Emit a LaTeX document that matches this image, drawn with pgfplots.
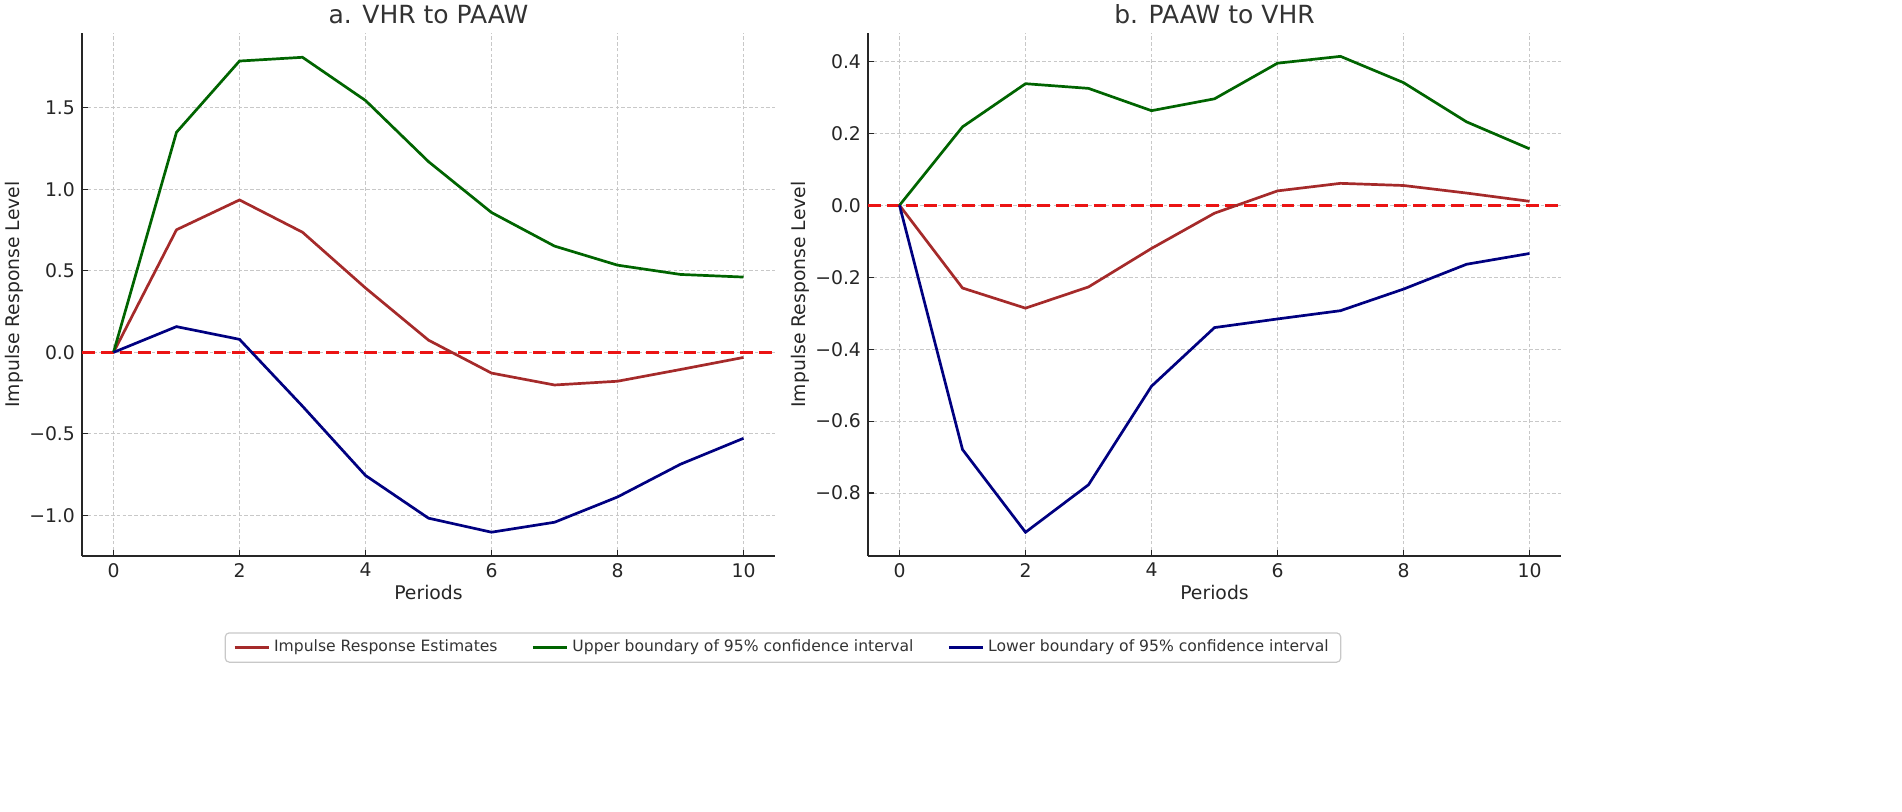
\documentclass[border=0pt]{standalone}
\usepackage{pgfplots}
\pgfplotsset{compat=1.18}
\usepackage{fontspec}
\setmainfont{DejaVu Sans}
\definecolor{irf}{RGB}{165,42,42}
\definecolor{upc}{RGB}{0,100,0}
\definecolor{loc}{RGB}{0,0,128}
\definecolor{zl}{RGB}{235,20,20}
\definecolor{gridc}{RGB}{200,200,200}
\definecolor{txt}{RGB}{38,38,38}
\definecolor{ttl}{RGB}{51,51,51}
\pgfplotsset{
  myax/.style={
    scale only axis, width=346.5pt, height=261.5pt,
    axis x line*=bottom, axis y line*=left,
    axis line style={-, line width=0.75pt, txt},
    xmin=-0.5, xmax=10.5,
    xtick={0,2,4,6,8,10},
    tick align=inside, major tick length=3.2pt,
    tick style={txt, line width=0.6pt},
    grid=major,
    major grid style={gridc, dash pattern=on 1.8pt off 1.1pt, line width=0.45pt},
    /pgf/number format/assume math mode=true,
    tick label style={font=\fontsize{9.4}{11}\selectfont, text=txt},
    label style={font=\fontsize{9.4}{11}\selectfont, text=txt},
    title style={font=\fontsize{12.5}{14}\selectfont, text=ttl, at={(0.5,1)}, anchor=base, yshift=-1.5pt},
    ylabel={Impulse Response Level},
    xlabel={Periods},
    ylabel style={at={(axis description cs:-0.098,0.5)}, anchor=center},
    xlabel style={at={(axis description cs:0.5,-0.0841)}, anchor=base},
    every axis plot/.append style={line width=1.35pt},
  }
}
\pgfplotstableread{
x red green blue
0 0 0 0
1 0.752 1.350 0.158
2 0.935 1.787 0.080
3 0.737 1.810 -0.330
4 0.395 1.545 -0.755
5 0.075 1.170 -1.017
6 -0.127 0.858 -1.103
7 -0.200 0.652 -1.042
8 -0.177 0.535 -0.887
9 -0.105 0.478 -0.686
10 -0.031 0.462 -0.527
}\tabA
\pgfplotstableread{
x red green blue
0 0 0 0
1 -0.230 0.218 -0.679
2 -0.286 0.338 -0.909
3 -0.227 0.325 -0.777
4 -0.120 0.263 -0.503
5 -0.022 0.296 -0.340
6 0.040 0.395 -0.316
7 0.061 0.414 -0.293
8 0.055 0.341 -0.233
9 0.034 0.232 -0.164
10 0.011 0.157 -0.134
}\tabB
\begin{document}
\begin{tikzpicture}
\path[use as bounding box] (0,0) rectangle (951pt,405.5pt);
\begin{axis}[myax, at={(41pt,127.5pt)}, anchor=south west,
  ymin=-1.249, ymax=1.959,
  ytick={-1,-0.5,0,0.5,1,1.5},
  yticklabels={−1.0,−0.5,0.0,0.5,1.0,1.5},
  title={a. VHR to PAAW},
  legend columns=3,
  legend style={at={(1.0115,-0.175)}, anchor=center,
    font=\fontsize{7.8}{9}\selectfont, text=ttl,
    draw=gridc, rounded corners=2pt, line width=0.6pt,
    inner xsep=4pt, inner ysep=1.6pt,
    /tikz/every even column/.append style={column sep=15pt}},
  legend cell align=left,
]
\addplot[zl, dash pattern=on 6.4pt off 3pt, line width=1.3pt, forget plot] coordinates {(-0.5,0) (10.5,0)};
\addplot[irf] table[x=x,y=red] {\tabA};
\addlegendentry{Impulse Response Estimates}
\addplot[upc] table[x=x,y=green] {\tabA};
\addlegendentry{Upper boundary of 95\% confidence interval}
\addplot[loc] table[x=x,y=blue] {\tabA};
\addlegendentry{Lower boundary of 95\% confidence interval}
\end{axis}
\begin{axis}[myax, at={(434pt,127.5pt)}, anchor=south west,
  ymin=-0.975, ymax=0.479,
  ytick={-0.8,-0.6,-0.4,-0.2,0,0.2,0.4},
  yticklabels={−0.8,−0.6,−0.4,−0.2,0.0,0.2,0.4},
  title={b. PAAW to VHR},
]
\addplot[zl, dash pattern=on 6.4pt off 3pt, line width=1.3pt] coordinates {(-0.5,0) (10.5,0)};
\addplot[irf] table[x=x,y=red] {\tabB};
\addplot[upc] table[x=x,y=green] {\tabB};
\addplot[loc] table[x=x,y=blue] {\tabB};
\end{axis}
\end{tikzpicture}
\end{document}
